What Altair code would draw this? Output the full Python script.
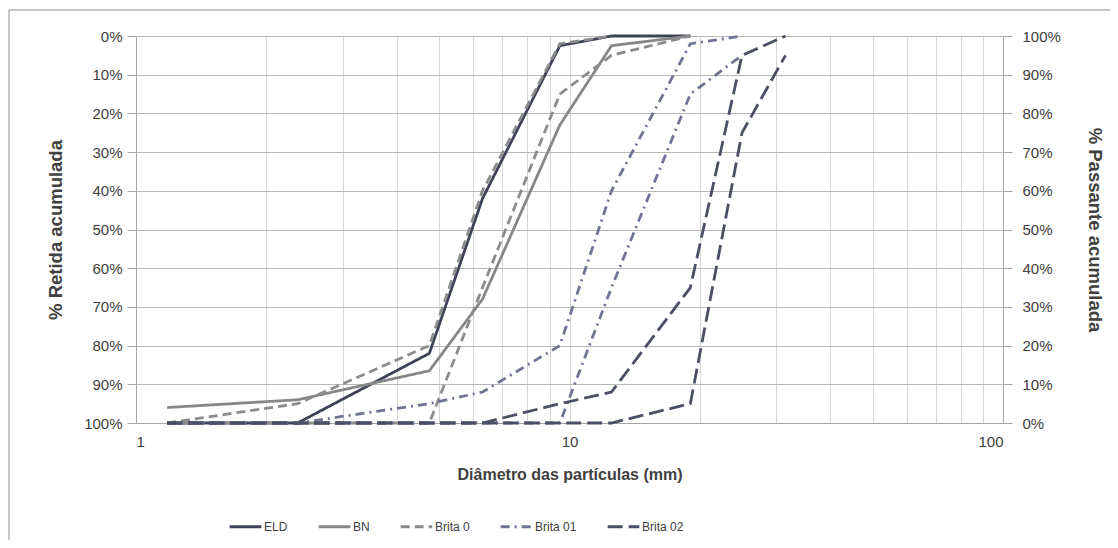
import altair as alt
import pandas as pd

# Sieve openings (mm)
sieves = [1.18, 2.36, 4.75, 6.3, 9.5, 12.5, 19, 25, 31.5]

# % retida acumulada per curve (None = no point)
eld         = [100, 100, 82, 42, 2.5, 0, 0, None, None]
bn          = [96, 94, 86.5, 68, 23, 2.5, 0, None, None]
brita0_inf  = [100, 95, 80, 40, 2, 0, None, None, None]
brita0_sup  = [100, 100, 100, 65, 15, 5, 0, None, None]
brita01_inf = [100, 100, 95, 92, 80, 40, 2, 0, None]
brita01_sup = [100, 100, 100, 100, 100, 65, 15, 5, None]
brita02_inf = [100, 100, 100, 100, 95, 92, 65, 5, 0]
brita02_sup = [100, 100, 100, 100, 100, 100, 95, 25, 5]

series_names = ["ELD", "BN", "Brita 0", "Brita 01", "Brita 02"]
series_colors = ["#3d4256", "#878787", "#8c8c8c", "#6f7492", "#4a4f63"]
series_dashes = [[1, 0], [1, 0], [9, 5], [9, 5, 2, 5], [15, 6]]

x_tick_values = [1, 2, 3, 4, 5, 6, 7, 8, 9, 10, 20, 30, 40, 50, 60, 70, 80, 90, 100]
y_tick_values = [0, 10, 20, 30, 40, 50, 60, 70, 80, 90, 100]

curves = [
    ("ELD", "ELD", eld),
    ("BN", "BN", bn),
    ("Brita 0", "Brita 0 inf", brita0_inf),
    ("Brita 0", "Brita 0 sup", brita0_sup),
    ("Brita 01", "Brita 01 inf", brita01_inf),
    ("Brita 01", "Brita 01 sup", brita01_sup),
    ("Brita 02", "Brita 02 inf", brita02_inf),
    ("Brita 02", "Brita 02 sup", brita02_sup),
]

rows = []
for serie, curva, vals in curves:
    for i, (d, v) in enumerate(zip(sieves, vals)):
        if v is not None:
            rows.append({"serie": serie, "curva": curva, "d": d, "ret": v, "ordem": i})
df = pd.DataFrame(rows)

TXT = "#404040"
AX = "#a6a6a6"

xscale = alt.Scale(type="log", domain=[1, 100])

x_axis = alt.Axis(
    values=x_tick_values,
    labelExpr="datum.value == 1 ? '1' : datum.value == 10 ? '10' : datum.value == 100 ? '100' : ''",
    title="Diâmetro das partículas (mm)",
    titleFontSize=16, titleFontWeight="bold", titleColor=TXT, titlePadding=17,
    labelFontSize=15, labelColor=TXT, labelPadding=11,
    ticks=False, domainColor=AX, gridColor="#d6d6d6", grid=True,
)

y_axis_left = alt.Axis(
    values=y_tick_values,
    labelExpr="datum.value + '%'",
    title="% Retida acumulada",
    titleFontSize=18.5, titleFontWeight="bold", titleColor=TXT, titlePadding=18,
    labelFontSize=15, labelColor=TXT, labelPadding=5,
    tickSize=9, tickColor=AX, domainColor=AX, gridColor="#b8b8b8", grid=True,
)

y_axis_right = alt.Axis(
    orient="right",
    values=y_tick_values,
    labelExpr="(100 - datum.value) + '%'",
    title="% Passante acumulada",
    titleFontSize=18.5, titleFontWeight="bold", titleColor=TXT, titlePadding=24,
    labelFontSize=15, labelColor=TXT, labelPadding=10,
    tickSize=9, tickColor=AX, domainColor=AX, grid=False,
)

legend = alt.Legend(
    title=None, orient="none", legendX=92, legendY=473, direction="horizontal",
    symbolType="stroke", symbolSize=1000, symbolStrokeWidth=3,
    labelFontSize=12, labelColor=TXT, labelOffset=1, columnPadding=24,
)

lines = alt.Chart(df).mark_line(strokeWidth=2.8).encode(
    x=alt.X("d:Q", scale=xscale, axis=x_axis),
    y=alt.Y("ret:Q", scale=alt.Scale(domain=[0, 100], reverse=True), axis=y_axis_left),
    color=alt.Color("serie:N", scale=alt.Scale(domain=series_names, range=series_colors), legend=legend),
    strokeDash=alt.StrokeDash("serie:N", scale=alt.Scale(domain=series_names, range=series_dashes), legend=legend),
    detail="curva:N",
    order="ordem:Q",
)

right = alt.Chart(df).mark_line(opacity=0).encode(
    x=alt.X("d:Q", scale=xscale, axis=x_axis),
    y=alt.Y("ret:Q", scale=alt.Scale(domain=[0, 100], reverse=True), axis=y_axis_right),
    detail="curva:N",
)

frame_df = pd.DataFrame({"k": [0]})
frame_top = alt.Chart(frame_df).mark_rule(color="#8f8f8f", strokeWidth=1).encode(
    x=alt.value(-127), x2=alt.value(990), y=alt.value(-26)
)
frame_left = alt.Chart(frame_df).mark_rule(color="#8f8f8f", strokeWidth=1).encode(
    x=alt.value(-127), y=alt.value(-26), y2=alt.value(520)
)

chart = alt.layer(lines, right, frame_top, frame_left).resolve_scale(y="independent").properties(
    width=867, height=387,
    padding={"left": 128, "top": 28, "right": 107, "bottom": 117},
    autosize=alt.AutoSizeParams(type="none"),
).configure(font="Liberation Sans").configure_view(stroke=None)

chart.save("out.html", embed_options={"renderer": "svg", "actions": False})
